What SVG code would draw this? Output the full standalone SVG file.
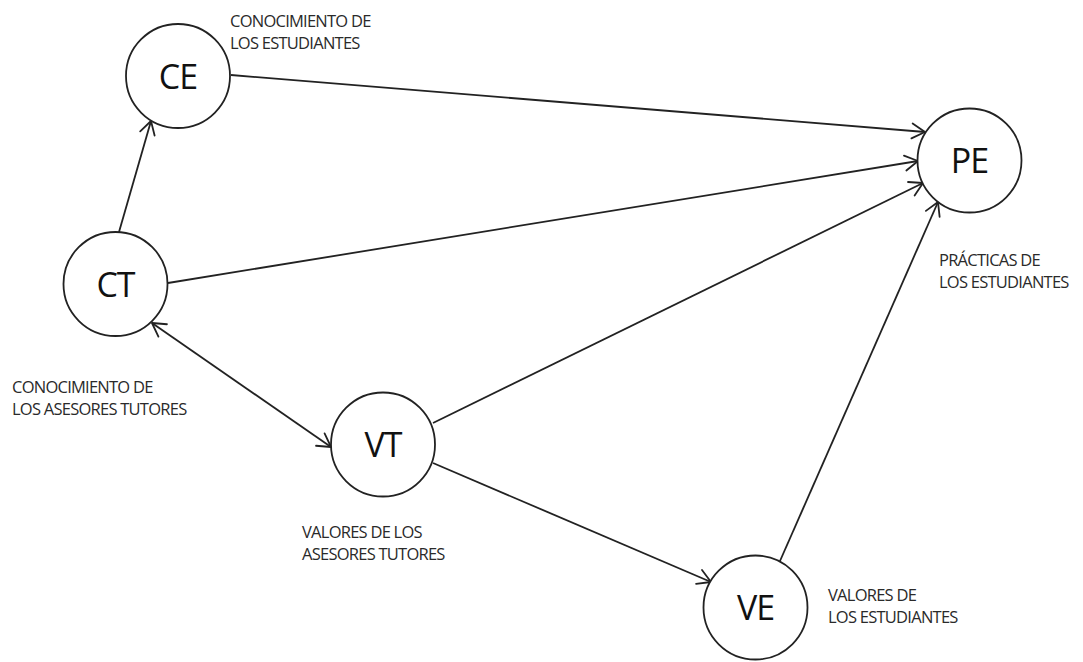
<svg xmlns="http://www.w3.org/2000/svg" width="1083" height="662" viewBox="0 0 1083 662">
<defs>
<marker id="arr" viewBox="-16 -10 18 20" markerWidth="18" markerHeight="20" refX="0" refY="0" orient="auto-start-reverse" markerUnits="userSpaceOnUse">
<path d="M-13,-7.5 L0,0 L-13,7.5" fill="none" stroke="#222" stroke-width="1.8" stroke-linecap="round" stroke-linejoin="round"/>
</marker>
</defs>
<style>
.node circle{fill:#fff;stroke:#222;stroke-width:1.8}
.node text{font-family:"Open Sans","Liberation Sans",sans-serif;font-size:34px;letter-spacing:-1px;fill:#111;text-anchor:middle}
.lbl{font-family:"Open Sans","Liberation Sans",sans-serif;font-size:16.5px;letter-spacing:-0.75px;fill:#2a2a2a}
.edge{stroke:#222;stroke-width:1.8;fill:none;marker-end:url(#arr)}
</style>
<rect width="1083" height="662" fill="#fff"/>
<g id="connectors">
<line class="edge" x1="231" y1="75" x2="925" y2="132"/>
<line class="edge" x1="168" y1="283" x2="918" y2="161"/>
<line class="edge" x1="433" y1="423" x2="923" y2="183"/>
<line class="edge" x1="780" y1="561" x2="938" y2="202"/>
<line class="edge" x1="119" y1="232" x2="151" y2="121"/>
<line class="edge" x1="152" y1="323" x2="331" y2="447" style="marker-start:url(#arr)"/>
<line class="edge" x1="433" y1="463" x2="711" y2="582"/>
</g>
<g id="CE" class="node"><circle cx="178" cy="76" r="52"/><text x="178" y="89">CE</text></g>
<g id="PE" class="node"><circle cx="969.5" cy="160.5" r="52"/><text x="969.5" y="173">PE</text></g>
<g id="CT" class="node"><circle cx="115.5" cy="284" r="52"/><text x="115.5" y="297">CT</text></g>
<g id="VT" class="node"><circle cx="383" cy="444.5" r="52"/><text x="383" y="457">VT</text></g>
<g id="VE" class="node"><circle cx="755.5" cy="607.5" r="52"/><text x="755.5" y="620">VE</text></g>
<g id="labels">
<text class="lbl" x="230" y="27">CONOCIMIENTO DE</text>
<text class="lbl" x="230" y="48.5">LOS ESTUDIANTES</text>
<text class="lbl" x="939" y="266">PRÁCTICAS DE</text>
<text class="lbl" x="939" y="287.5">LOS ESTUDIANTES</text>
<text class="lbl" x="12" y="393">CONOCIMIENTO DE</text>
<text class="lbl" x="12" y="415">LOS ASESORES TUTORES</text>
<text class="lbl" x="302" y="538">VALORES DE LOS</text>
<text class="lbl" x="302" y="560">ASESORES TUTORES</text>
<text class="lbl" x="828" y="601">VALORES DE</text>
<text class="lbl" x="828" y="622.5">LOS ESTUDIANTES</text>
</g>
</svg>
